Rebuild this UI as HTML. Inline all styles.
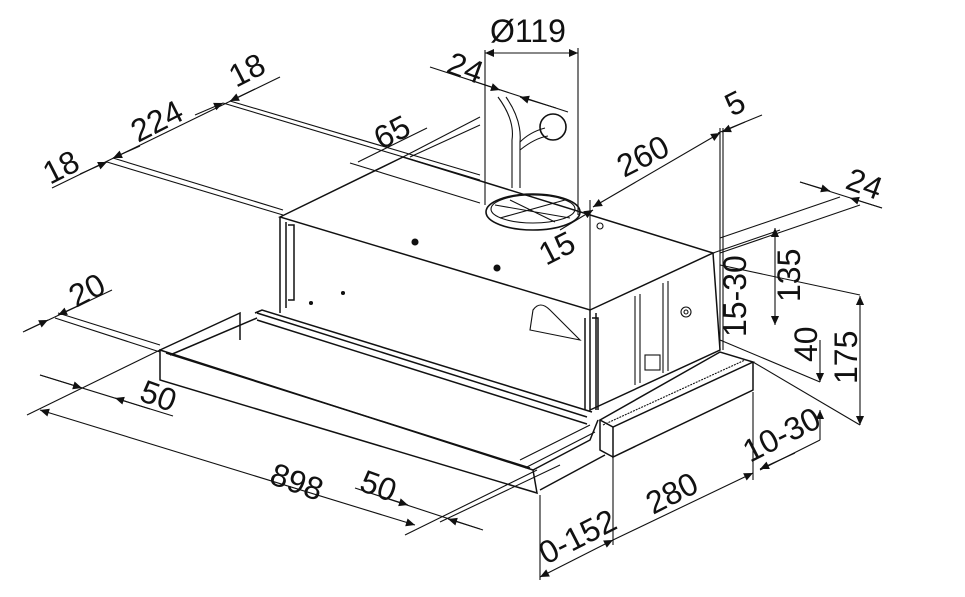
<!DOCTYPE html>
<html><head><meta charset="utf-8"><style>
html,body{margin:0;padding:0;background:#fff;}
svg{display:block;}
text{font-family:"Liberation Sans",sans-serif;font-size:32px;fill:#111;}
</style></head><body>
<svg width="965" height="597" viewBox="0 0 965 597" xmlns="http://www.w3.org/2000/svg">
<defs>
<marker id="a" viewBox="0 0 10 10" refX="10" refY="5" markerWidth="20" markerHeight="9" markerUnits="userSpaceOnUse" orient="auto-start-reverse"><path d="M0,0.5 L10,5 L0,9.5z" fill="#111"/></marker>
</defs>
<g stroke="#111" fill="none" stroke-width="1.1">
<line x1="107" y1="162" x2="283" y2="215"/>
<line x1="113" y1="158" x2="283" y2="210"/>
<line x1="223" y1="103" x2="480" y2="180"/>
<line x1="230" y1="101" x2="480" y2="175"/>
<line x1="350" y1="163" x2="480" y2="203"/>
<line x1="403" y1="157" x2="480" y2="117"/>
<line x1="410" y1="157" x2="480" y2="125"/>
<line x1="52" y1="188" x2="280" y2="77"/>
<line x1="80" y1="174" x2="107" y2="162" marker-end="url(#a)"/>
<line x1="113" y1="158" x2="140" y2="146" marker-start="url(#a)"/>
<line x1="195" y1="115" x2="223" y2="103" marker-end="url(#a)"/>
<line x1="230" y1="101" x2="255" y2="89" marker-start="url(#a)"/>
<line x1="358" y1="162" x2="427" y2="128"/>
<line x1="430" y1="67" x2="568" y2="112"/>
<line x1="470" y1="80" x2="500" y2="90" marker-end="url(#a)"/>
<line x1="520" y1="97" x2="556" y2="108" marker-start="url(#a)"/>
<line x1="485" y1="53" x2="578" y2="53" marker-start="url(#a)" marker-end="url(#a)"/>
<line x1="485" y1="50" x2="485" y2="205"/>
<line x1="578" y1="48" x2="578" y2="215"/>
<ellipse cx="533" cy="212" rx="47" ry="18" stroke-width="1.6"/>
<ellipse cx="533" cy="209" rx="42" ry="14"/>
<path d="M495,205 L570,218 M500,218 L565,200 M510,200 L555,222"/>
<path d="M498,97 Q515,120 512,140 L512,188 M506,97 Q522,120 520,142 L520,188"/>
<path d="M520,142 Q530,132 545,128 M520,150 Q535,138 548,136"/>
<circle cx="553" cy="127" r="13" stroke-width="1.6"/>
<line x1="593" y1="207" x2="720" y2="133" marker-start="url(#a)" marker-end="url(#a)"/>
<line x1="718" y1="133" x2="762" y2="115"/>
<line x1="745" y1="122" x2="722" y2="132" marker-end="url(#a)"/>
<line x1="720" y1="128" x2="720" y2="350"/>
<line x1="723" y1="128" x2="723" y2="350"/>
<line x1="590" y1="200" x2="590" y2="310"/>
<line x1="560" y1="230" x2="593" y2="210" marker-end="url(#a)"/>
<line x1="800" y1="182" x2="882" y2="208"/>
<line x1="800" y1="182" x2="830" y2="191" marker-end="url(#a)"/>
<line x1="882" y1="208" x2="850" y2="198" marker-end="url(#a)"/>
<line x1="720" y1="238" x2="840" y2="197"/>
<line x1="720" y1="253" x2="860" y2="205"/>
<line x1="713" y1="253" x2="780" y2="230"/>
<line x1="775" y1="228" x2="775" y2="325" marker-start="url(#a)" marker-end="url(#a)"/>
<line x1="720" y1="265" x2="860" y2="295"/>
<line x1="720" y1="340" x2="820" y2="382"/>
<line x1="753" y1="362" x2="860" y2="425"/>
<line x1="860" y1="296" x2="860" y2="425" marker-start="url(#a)" marker-end="url(#a)"/>
<line x1="820" y1="340" x2="820" y2="382" marker-end="url(#a)"/>
<line x1="820" y1="440" x2="820" y2="410" marker-end="url(#a)"/>
<g stroke-width="1.5">
<path d="M280,217 L403,157 L713,253 L590,310 Z"/>
<path d="M280,217 L280,313"/>
<path d="M590,310 L590,410 L720,350 L713,253"/>
<path d="M596,313 L596,410"/>
<path d="M286,222 L286,308 M288,225 L294,225 L294,300 L288,300"/>
<path d="M585,318 L585,410 M592,318 L598,318 L598,410"/>
</g>
<path d="M533,310 Q540,300 550,310 L580,340 L530,330 Z"/>
<path d="M635,296 L635,385 M640,294 L640,383 M663,283 L663,373 M668,281 L668,371"/>
<rect x="645" y="355" width="15" height="15"/>
<circle cx="686" cy="312" r="5"/><circle cx="686" cy="312" r="2"/>
<circle cx="415" cy="242" r="3" fill="#111"/><circle cx="497" cy="268" r="3" fill="#111"/>
<circle cx="600" cy="226" r="3"/>
<circle cx="311" cy="303" r="1.5" fill="#111"/><circle cx="343" cy="293" r="1.5" fill="#111"/>
<g stroke-width="1.5">
<path d="M160,350 L533,470 L537,493 L160,380 Z"/>
<path d="M166,353 L530,468"/>
<path d="M160,350 L240,313 L240,340"/>
<path d="M257,313 L587,417 M257,320 L587,424 M255,313 L262,310 L592,412"/>
<path d="M170,355 L257,318"/>
<path d="M533,470 L590,440 L598,420"/>
<path d="M540,490 L605,455"/>
</g>
<path d="M520,460 L590,425 M525,468 L595,432"/>
<g stroke-width="1.5">
<path d="M600,420 L720,352 L753,362 L613,427 Z"/>
<path d="M613,427 L613,457 L753,390 L753,362"/>
<path d="M600,420 L600,450 L613,457"/>
</g>
<path d="M603,425 L745,360" stroke-dasharray="2,1"/>
<line x1="613" y1="457" x2="613" y2="545"/>
<line x1="540" y1="495" x2="540" y2="580"/>
<line x1="753" y1="392" x2="753" y2="480"/>
<line x1="540" y1="577" x2="613" y2="540" marker-start="url(#a)" marker-end="url(#a)"/>
<line x1="613" y1="540" x2="753" y2="473" marker-end="url(#a)"/>
<line x1="760" y1="470" x2="820" y2="440"/>
<line x1="795" y1="453" x2="760" y2="469" marker-end="url(#a)"/>
<line x1="23" y1="332" x2="112" y2="290"/>
<line x1="25" y1="331" x2="48" y2="320" marker-end="url(#a)"/>
<line x1="82" y1="304" x2="58" y2="315" marker-end="url(#a)"/>
<line x1="55" y1="318" x2="160" y2="352"/>
<line x1="58" y1="313" x2="160" y2="345"/>
<line x1="40" y1="375" x2="173" y2="416"/>
<line x1="40" y1="375" x2="82" y2="388" marker-end="url(#a)"/>
<line x1="150" y1="409" x2="115" y2="398" marker-end="url(#a)"/>
<line x1="27" y1="415" x2="160" y2="350"/>
<line x1="40" y1="410" x2="415" y2="525" marker-start="url(#a)" marker-end="url(#a)"/>
<line x1="355" y1="488" x2="483" y2="530"/>
<line x1="380" y1="496" x2="408" y2="505" marker-end="url(#a)"/>
<line x1="480" y1="529" x2="448" y2="519" marker-end="url(#a)"/>
<line x1="405" y1="535" x2="537" y2="470"/>
<line x1="440" y1="522" x2="560" y2="465"/>
</g>
<text transform="translate(50,185) rotate(-27)">18</text>
<text transform="translate(138,143) rotate(-27)">224</text>
<text transform="translate(236,88) rotate(-27)">18</text>
<text transform="translate(381,150) rotate(-27)">65</text>
<text transform="translate(445,72) rotate(20)">24</text>
<text x="490" y="42">Ø119</text>
<text transform="translate(624,178) rotate(-27)">260</text>
<text transform="translate(732,117) rotate(-27)">5</text>
<text transform="translate(546,266) rotate(-27)">15</text>
<text transform="translate(844,188) rotate(20)">24</text>
<text transform="translate(800,302) rotate(-90)">135</text>
<text transform="translate(746,337) rotate(-90)">15-30</text>
<text transform="translate(817,362) rotate(-90)">40</text>
<text transform="translate(857,384) rotate(-90)">175</text>
<text transform="translate(76,308) rotate(-27)">20</text>
<text transform="translate(138,400) rotate(20)">50</text>
<text transform="translate(268,483) rotate(20)">898</text>
<text transform="translate(358,490) rotate(20)">50</text>
<text transform="translate(653,515) rotate(-27)">280</text>
<text transform="translate(546,565) rotate(-27)">0-152</text>
<text transform="translate(750,463) rotate(-27)">10-30</text>
</svg>
</body></html>
